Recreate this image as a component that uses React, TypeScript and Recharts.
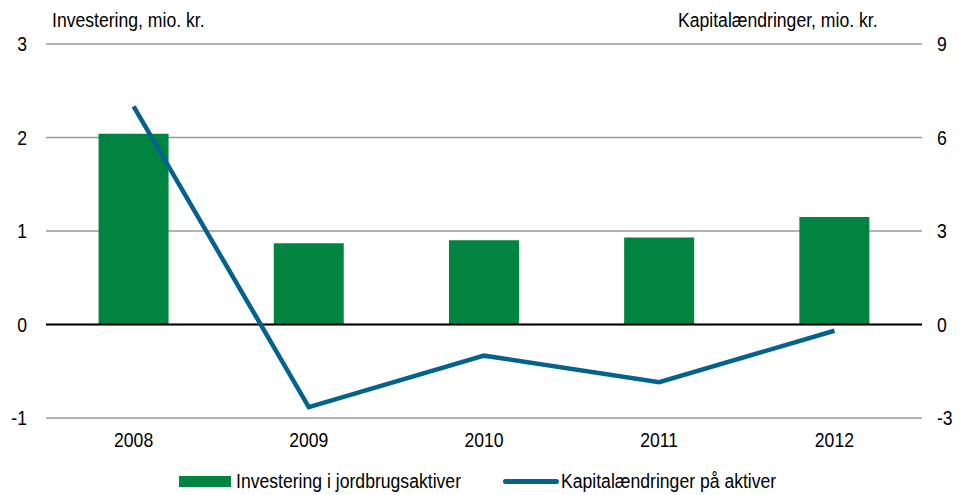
import React from 'react';
import {
  ComposedChart,
  Bar,
  Line,
  XAxis,
  YAxis,
  CartesianGrid,
  ReferenceLine,
  Legend,
} from 'recharts';

const years = ['2008', '2009', '2010', '2011', '2012'];
const investering = [2.04, 0.87, 0.9, 0.93, 1.15];
const kapital = [7.0, -2.65, -1.0, -1.85, -0.2];
const leftTicks = [-1, 0, 1, 2, 3];
const rightTicks = [-3, 0, 3, 6, 9];

const GREEN = '#00843f';
const BLUE = '#03628e';
const FONT = '"Liberation Sans", Arial, sans-serif';
const FS = 20;
const SX = 0.88;

const data = years.map((year, i) => ({
  year,
  inv: investering[i],
  kap: kapital[i],
}));

// narrow-looking text: Liberation Sans squeezed horizontally
const Narrow = ({ left, top, children }: { left: number; top: number; children: React.ReactNode }) => (
  <div
    style={{
      position: 'absolute',
      left,
      top,
      fontSize: FS,
      lineHeight: '24px',
      whiteSpace: 'nowrap',
      transform: `scaleX(${SX})`,
      transformOrigin: 'left center',
    }}>
    {children}
  </div>
);

const Tick = (props: any) => {
  const { x, y, payload, textAnchor } = props;
  return (
    <text
      x={0}
      y={0}
      dy='0.355em'
      textAnchor={textAnchor}
      fill='#000'
      fontSize={FS}
      fontFamily={FONT}
      transform={`translate(${x},${y}) scale(${SX},1)`}>
      {payload.value}
    </text>
  );
};

const LegendContent = () => (
  <div style={{ position: 'relative', height: 37, fontFamily: FONT, color: '#000' }}>
    <span style={{ position: 'absolute', left: 179, top: 18, width: 52, height: 11, background: GREEN }} />
    <Narrow left={236} top={11}>Investering i jordbrugsaktiver</Narrow>
    <span style={{ position: 'absolute', left: 503, top: 21, width: 56, height: 5, borderRadius: 3, background: BLUE }} />
    <Narrow left={561} top={11}>Kapitalændringer på aktiver</Narrow>
  </div>
);

export default function App() {
  return (
    <div style={{ position: 'absolute', left: 0, top: 0, width: 970, height: 495, background: '#fff', fontFamily: FONT }}>
      <Narrow left={52} top={8}>Investering, mio. kr.</Narrow>
      <Narrow left={678} top={8}>Kapitalændringer, mio. kr.</Narrow>
      <ComposedChart
        width={970}
        height={495}
        data={data}
        margin={{ top: 44, right: 0, bottom: 0, left: 0 }}
        barCategoryGap='30%'>
        <CartesianGrid horizontal vertical={false} stroke='#9a9a9a' strokeWidth={1.5} yAxisId='left' />
        <XAxis
          dataKey='year'
          axisLine={false}
          tickLine={false}
          tickSize={0}
          tickMargin={22}
          height={40}
          tick={<Tick />}
        />
        <YAxis
          yAxisId='left'
          orientation='left'
          domain={[-1, 3]}
          ticks={leftTicks}
          width={46}
          axisLine={false}
          tickLine={false}
          tickSize={0}
          tickMargin={19}
          tick={<Tick />}
        />
        <YAxis
          yAxisId='right'
          orientation='right'
          domain={[-3, 9]}
          ticks={rightTicks}
          width={48}
          axisLine={false}
          tickLine={false}
          tickSize={0}
          tickMargin={15}
          tick={<Tick />}
        />
        <Legend verticalAlign='bottom' content={<LegendContent />} wrapperStyle={{ height: 37 }} />
        <Bar
          yAxisId='left'
          dataKey='inv'
          name='Investering i jordbrugsaktiver'
          fill={GREEN}
          isAnimationActive={false}
        />
        <ReferenceLine yAxisId='left' y={0} stroke='#000' strokeWidth={2} />
        <Line
          yAxisId='right'
          dataKey='kap'
          name='Kapitalændringer på aktiver'
          stroke={BLUE}
          strokeWidth={4.5}
          dot={false}
          type='linear'
          isAnimationActive={false}
        />
      </ComposedChart>
    </div>
  );
}
